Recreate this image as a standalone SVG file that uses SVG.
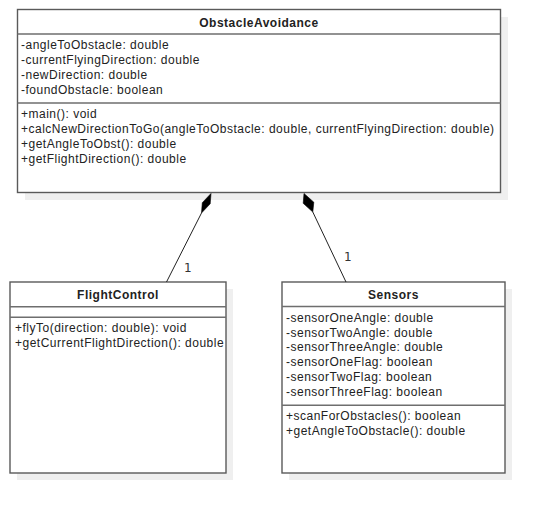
<svg xmlns="http://www.w3.org/2000/svg" width="545" height="513" viewBox="0 0 545 513">
  <style>
    .shadow { fill: #efefef; stroke: none; }
    .box { fill: #ffffff; stroke: #5a5a5a; stroke-width: 1.4; }
    .div { stroke: #6e6e6e; stroke-width: 1.4; }
    .title { font-family: "Liberation Sans", Arial, sans-serif; font-size: 12px; letter-spacing: 0.5px; font-weight: bold; fill: #222; text-anchor: middle; }
    .item { font-family: "Liberation Sans", Arial, sans-serif; font-size: 12px; letter-spacing: 0.5px; fill: #222; }
    .edge { stroke: #222; stroke-width: 1; fill: none; }
    .comp { fill: #000; stroke: #000; stroke-width: 0.6; }
    .mult { font-family: "DejaVu Sans", sans-serif; font-size: 12px; fill: #333; }
  </style>
  <rect width="545" height="513" fill="#ffffff"/>

  <!-- class: ObstacleAvoidance -->
  <g id="ObstacleAvoidance">
    <rect class="shadow" x="25" y="17" width="483" height="183"/>
    <rect class="box" x="17.5" y="9.5" width="483" height="183"/>
    <line class="div" x1="17.5" y1="34" x2="500.5" y2="34"/>
    <line class="div" x1="17.5" y1="103" x2="500.5" y2="103"/>
    <text class="title" x="259" y="26.5">ObstacleAvoidance</text>
    <text class="item" x="21" y="49.3">-angleToObstacle: double</text>
    <text class="item" x="21" y="64.1">-currentFlyingDirection: double</text>
    <text class="item" x="21" y="78.9">-newDirection: double</text>
    <text class="item" x="21" y="93.7">-foundObstacle: boolean</text>
    <text class="item" x="21" y="118.3">+main(): void</text>
    <text class="item" x="21" y="133.1">+calcNewDirectionToGo(angleToObstacle: double, currentFlyingDirection: double)</text>
    <text class="item" x="21" y="147.9">+getAngleToObst(): double</text>
    <text class="item" x="21" y="162.7">+getFlightDirection(): double</text>
  </g>

  <!-- class: FlightControl -->
  <g id="FlightControl">
    <rect class="shadow" x="17" y="289" width="216" height="191"/>
    <rect class="box" x="10" y="282" width="216" height="191"/>
    <line class="div" x1="10" y1="306.7" x2="226" y2="306.7"/>
    <line class="div" x1="10" y1="317.3" x2="226" y2="317.3"/>
    <text class="title" x="118" y="299">FlightControl</text>
    <text class="item" x="15" y="331.7">+flyTo(direction: double): void</text>
    <text class="item" x="15" y="346.5">+getCurrentFlightDirection(): double</text>
  </g>

  <!-- class: Sensors -->
  <g id="Sensors">
    <rect class="shadow" x="289" y="289" width="223" height="191"/>
    <rect class="box" x="282" y="282" width="223" height="191"/>
    <line class="div" x1="282" y1="306.5" x2="505" y2="306.5"/>
    <line class="div" x1="282" y1="405.3" x2="505" y2="405.3"/>
    <text class="title" x="393.5" y="299">Sensors</text>
    <text class="item" x="286" y="321.7">-sensorOneAngle: double</text>
    <text class="item" x="286" y="336.5">-sensorTwoAngle: double</text>
    <text class="item" x="286" y="351.3">-sensorThreeAngle: double</text>
    <text class="item" x="286" y="366.1">-sensorOneFlag: boolean</text>
    <text class="item" x="286" y="380.9">-sensorTwoFlag: boolean</text>
    <text class="item" x="286" y="395.7">-sensorThreeFlag: boolean</text>
    <text class="item" x="286" y="420">+scanForObstacles(): boolean</text>
    <text class="item" x="286" y="434.8">+getAngleToObstacle(): double</text>
  </g>

  <!-- composition links -->
  <g id="connectors">
    <line class="edge" x1="201.5" y1="213" x2="166.5" y2="282"/>
    <path class="comp" d="M211,193.5 L210.2,203.8 L201.5,213 L202.3,202.7 Z"/>
    <text class="mult" x="184" y="272">1</text>

    <line class="edge" x1="312.8" y1="212" x2="346" y2="282"/>
    <path class="comp" d="M304,193.5 L313.8,202.2 L312.8,212 L303.2,203.3 Z"/>
    <text class="mult" x="344" y="261">1</text>
  </g>
</svg>
